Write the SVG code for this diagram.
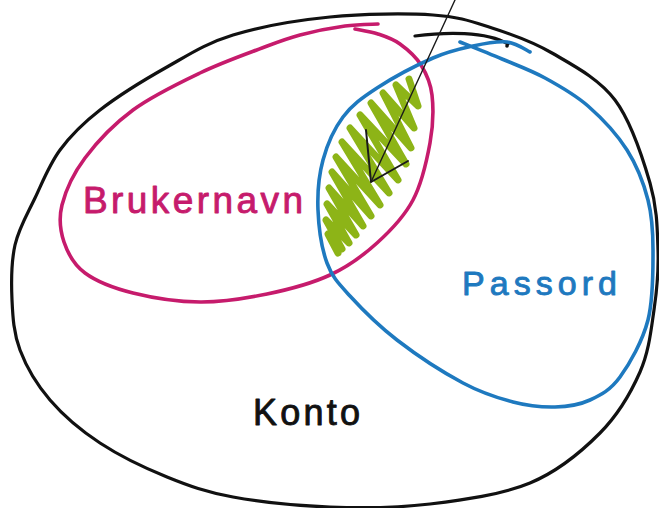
<svg xmlns="http://www.w3.org/2000/svg" width="659" height="508" viewBox="0 0 659 508">
  <style>
    .set { fill: none; stroke-linecap: round; stroke-linejoin: round; }
    .konto { stroke: #111111; stroke-width: 3.2; }
    .bruker { stroke: #c61b6c; stroke-width: 3.6; }
    .pass { stroke: #1e79bf; stroke-width: 3.6; }
    .hatch { fill: none; stroke: #8db417; stroke-width: 7; stroke-linecap: round; stroke-linejoin: round; }
    .pointer { fill: none; stroke: #1a1a1a; stroke-linecap: round; stroke-linejoin: round; }
    .label { font-family: "Liberation Sans", "DejaVu Sans", sans-serif; stroke-width: 0.9; stroke-linejoin: round; }
  </style>

  <rect width="659" height="508" fill="#ffffff"/>

  <!-- Outer set: Konto -->
  <g id="konto">
    <path class="set konto" d="M433,15
      C460,16.8 472.2,21.7 492,28
      C511.8,34.3 531.5,41 552,53
      C572.5,65 598.7,78.3 615,100
      C631.3,121.7 642.8,158 650,183
      C657.2,208 657.3,228.8 658,250
      C658.7,271.2 657,289.7 654,310
      C651,330.3 649,351.5 640,372
      C631,392.5 618.3,414.5 600,433
      C581.7,451.5 558.3,471.2 530,483
      C501.7,494.8 463.3,500 430,504
      C396.7,508 362.8,508.2 330,507
      C297.2,505.8 260.2,502 233,497
      C205.8,492 189.2,486 167,477
      C144.8,468 119.5,455.8 100,443
      C80.5,430.2 63.3,415.5 50,400
      C36.7,384.5 26.3,366.7 20,350
      C13.7,333.3 12.8,317.5 12,300
      C11.2,282.5 11.2,262 15,245
      C18.8,228 27.5,213.8 35,198
      C42.5,182.2 49.2,164.7 60,150
      C70.8,135.3 82.2,123.8 100,110
      C117.8,96.2 144.8,79.5 167,67
      C189.2,54.5 205.8,43.3 233,35
      C260.2,26.7 296.7,20.3 330,17
      C363.3,13.7 406,13.2 433,15"/>
    <path class="set konto" d="M415,36 C445,32 486,31 508,44"/>
    <circle cx="507" cy="46" r="1.8" fill="#111111"/>
    <text class="label" x="253" y="425" font-size="36" fill="#111111" stroke="#111111" textLength="107" lengthAdjust="spacing">Konto</text>
  </g>

  <!-- Set: Brukernavn -->
  <g id="brukernavn">
    <path class="set bruker" d="M378,24
      C372.5,24.3 358,24.2 345,26
      C332,27.8 313.8,31.3 300,35
      C286.2,38.7 278.7,41.7 262,48
      C245.3,54.3 221.5,62.7 200,73
      C178.5,83.3 152.2,95.8 133,110
      C113.8,124.2 96.8,142.2 85,158
      C73.2,173.8 65.5,191 62,205
      C58.5,219 60.2,230.7 64,242
      C67.8,253.3 73.5,264.5 85,273
      C96.5,281.5 113.8,288.2 133,293
      C152.2,297.8 177.7,301.8 200,302
      C222.3,302.2 245.3,298.5 267,294
      C288.7,289.5 311.7,283.5 330,275
      C348.3,266.5 363.2,255.5 377,243
      C390.8,230.5 404.2,216.7 413,200
      C421.8,183.3 426.8,160.5 430,143
      C433.2,125.5 433.5,108 432,95
      C430.5,82 426.3,73.5 421,65
      C415.7,56.5 407.2,49.2 400,44
      C392.8,38.8 385.5,36.5 378,34
      C370.5,31.5 358.8,29.8 355,29"/>
    <text class="label" x="83" y="213" font-size="37" fill="#c61b6c" stroke="#c61b6c" textLength="220" lengthAdjust="spacing">Brukernavn</text>
  </g>

  <!-- Set: Passord -->
  <g id="passord">
    <path class="set pass" d="M460,42
      C467,44.8 487.8,53 502,59
      C516.2,65 530.7,70.2 545,78
      C559.3,85.8 574.3,94 588,106
      C601.7,118 617,134.3 627,150
      C637,165.7 643.7,183.3 648,200
      C652.3,216.7 653,230 653,250
      C653,270 653.5,298.8 648,320
      C642.5,341.2 629.7,363.7 620,377
      C610.3,390.3 600.8,395 590,400
      C579.2,405 567.8,406.7 555,407
      C542.2,407.3 528.3,406 513,402
      C497.7,398 482.3,393.3 463,383
      C443.7,372.7 415.8,354.5 397,340
      C378.2,325.5 361.7,308.8 350,296
      C338.3,283.2 332.3,277.3 327,263
      C321.7,248.7 318.7,227.2 318,210
      C317.3,192.8 318.8,175.5 323,160
      C327.2,144.5 334,129 343,117
      C352,105 362,97.8 377,88
      C392,78.2 417,65 433,58
      C449,51 460.7,48.7 473,46
      C485.3,43.3 497.5,41 507,42
      C516.5,43 526.2,50.3 530,52"/>
    <text class="label" x="462" y="295" font-size="34" fill="#1e79bf" stroke="#1e79bf" textLength="155" lengthAdjust="spacing">Passord</text>
  </g>

  <!-- Overlap of both sets, scribbled in -->
  <g id="overlap">
    <polyline class="hatch" points="409,79 418,106 396,85 414,128 383,93 411,148 371,103 406,164 360,115 398,180 350,128 389,193 342,142 380,205 336,157 371,216 332,172 363,226 329,188 356,235 327,204 349,243 326,220 342,249 328,234 338,253"/>
  </g>

  <!-- Pointer into the overlap -->
  <g id="connectors">
    <path class="pointer" stroke-width="1.4" d="M455,0 L371,182"/>
    <path class="pointer" stroke-width="2" d="M366,130 L371,182 L408,161"/>
  </g>
</svg>
